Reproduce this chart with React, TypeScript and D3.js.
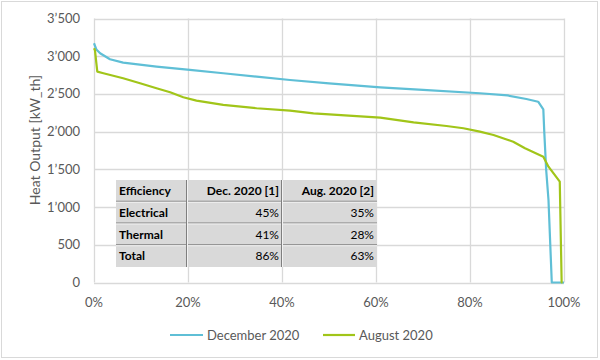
import React from "react";
import * as d3 from "d3";

const decPct = [0, 0.5, 1.3, 3.4, 6.2, 13.3, 20.4, 27.5, 34.6, 41.7, 50, 60.9, 70, 82.1, 88, 92, 94.5, 95.6, 95.8, 96.2, 96.7, 97.4, 100];
const decVal = [3172, 3090, 3040, 2960, 2915, 2862, 2818, 2774, 2729, 2685, 2640, 2588, 2555, 2509, 2480, 2433, 2397, 2296, 2000, 1500, 1094, 0, 0];

const augPct = [0, 0.2, 0.7, 2, 6.2, 9.8, 13.3, 16.2, 19, 21.8, 27.5, 34.6, 41.7, 46.7, 60.9, 68, 75, 78.6, 82.1, 85, 89.2, 91.7, 95.6, 96.7, 99.1, 99.5, 99.7];
const augVal = [3106, 3080, 2795, 2774, 2708, 2641, 2575, 2522, 2456, 2411, 2354, 2310, 2278, 2243, 2185, 2124, 2075, 2045, 2000, 1955, 1867, 1779, 1668, 1536, 1337, 0, 0];

const yTicks = [0, 500, 1000, 1500, 2000, 2500, 3000, 3500];
const xTicks = [0, 20, 40, 60, 80, 100];

const tableHeader = ["Efficiency", "Dec. 2020 [1]", "Aug. 2020 [2]"];
const tableRows = [
  ["Electrical", "45%", "35%"],
  ["Thermal", "41%", "28%"],
  ["Total", "86%", "63%"],
];

const seriesNames = ["December 2020", "August 2020"];
const colors = ["#5fbfd6", "#a1c519"];

const FONT = "Lato, 'Open Sans', sans-serif";

export default function App() {
  const x = d3.scaleLinear().domain([0, 100]).range([94, 564]);
  const y = d3.scaleLinear().domain([0, 3500]).range([282.5, 18.5]);
  const fmt = d3.formatLocale({ decimal: ".", thousands: "’", grouping: [3], currency: ["", ""] }).format(",");
  const line = d3.line<[number, number]>().x((d) => x(d[0])).y((d) => y(d[1]));
  const decData = decPct.map((p, i) => [p, decVal[i]] as [number, number]);
  const augData = augPct.map((p, i) => [p, augVal[i]] as [number, number]);

  const tX0 = 116, tX1 = 377, tY0 = 180, rowH = 21.75;
  const colX = [116, 187, 282, 377];
  const rows = [tableHeader, ...tableRows];

  return (
    <svg width={600} height={360} style={{ position: "absolute", left: 0, top: 0, background: "#fff" }} fontFamily={FONT}>
      <rect x={1.5} y={1.5} width={596} height={356} fill="#fff" stroke="#d9d9d9" />
      {yTicks.map((t) => (
        <g key={t}>
          <line x1={x(0)} x2={x(100)} y1={Math.round(y(t)) + 0.5} y2={Math.round(y(t)) + 0.5} stroke="#d9d9d9" strokeWidth={1.3} />
          <text x={80} y={y(t)} dy="0.35em" textAnchor="end" fontSize={13} fill="#595959">{fmt(t)}</text>
        </g>
      ))}
      {xTicks.map((t) => (
        <g key={t}>
          <line x1={Math.round(x(t)) + 0.5} x2={Math.round(x(t)) + 0.5} y1={y(3500)} y2={y(0)} stroke="#d9d9d9" strokeWidth={1.3} />
          <text x={x(t)} y={302} dy="0.35em" textAnchor="middle" fontSize={13} fill="#595959">{t}%</text>
        </g>
      ))}
      <text transform={`translate(35,140) rotate(-90)`} textAnchor="middle" dy="0.35em" fontSize={14} fill="#595959">Heat Output [kW_th]</text>
      <path d={line(decData) || ""} fill="none" stroke={colors[0]} strokeWidth={2.2} strokeLinejoin="round" />
      <path d={line(augData) || ""} fill="none" stroke={colors[1]} strokeWidth={2.2} strokeLinejoin="round" />

      <rect x={tX0} y={tY0} width={tX1 - tX0} height={rowH * 4} fill="#d9d9d9" />
      {[1, 2, 3].map((i) => (
        <g key={i}>
          <line x1={tX0} x2={tX1} y1={tY0 + rowH * i - 0.5} y2={tY0 + rowH * i - 0.5} stroke="#7f7f7f" strokeWidth={1} />
          <line x1={tX0} x2={tX1} y1={tY0 + rowH * i + 0.5} y2={tY0 + rowH * i + 0.5} stroke="#f2f2f2" strokeWidth={1} />
        </g>
      ))}
      {[1, 2].map((i) => (
        <g key={i}>
          <line x1={colX[i] - 0.5} x2={colX[i] - 0.5} y1={tY0} y2={tY0 + rowH * 4} stroke="#7f7f7f" strokeWidth={1} />
          <line x1={colX[i] + 0.5} x2={colX[i] + 0.5} y1={tY0} y2={tY0 + rowH * 4} stroke="#f2f2f2" strokeWidth={1} />
        </g>
      ))}
      {rows.map((r, ri) => (
        <g key={ri}>
          {r.map((c, ci) => (
            <text
              key={ci}
              x={ci === 0 ? colX[0] + 3 : colX[ci + 1] - 3}
              y={tY0 + rowH * ri + rowH / 2}
              dy="0.35em"
              textAnchor={ci === 0 ? "start" : "end"}
              fontSize={12}
              fontWeight={ci === 0 || ri === 0 ? "bold" : "normal"}
              fill="#000"
            >
              {c}
            </text>
          ))}
        </g>
      ))}

      <line x1={170} x2={203} y1={335} y2={335} stroke={colors[0]} strokeWidth={2.2} />
      <text x={207} y={335} dy="0.35em" fontSize={13} fill="#595959">{seriesNames[0]}</text>
      <line x1={323} x2={355} y1={335} y2={335} stroke={colors[1]} strokeWidth={2.2} />
      <text x={359} y={335} dy="0.35em" fontSize={13} fill="#595959">{seriesNames[1]}</text>
    </svg>
  );
}
